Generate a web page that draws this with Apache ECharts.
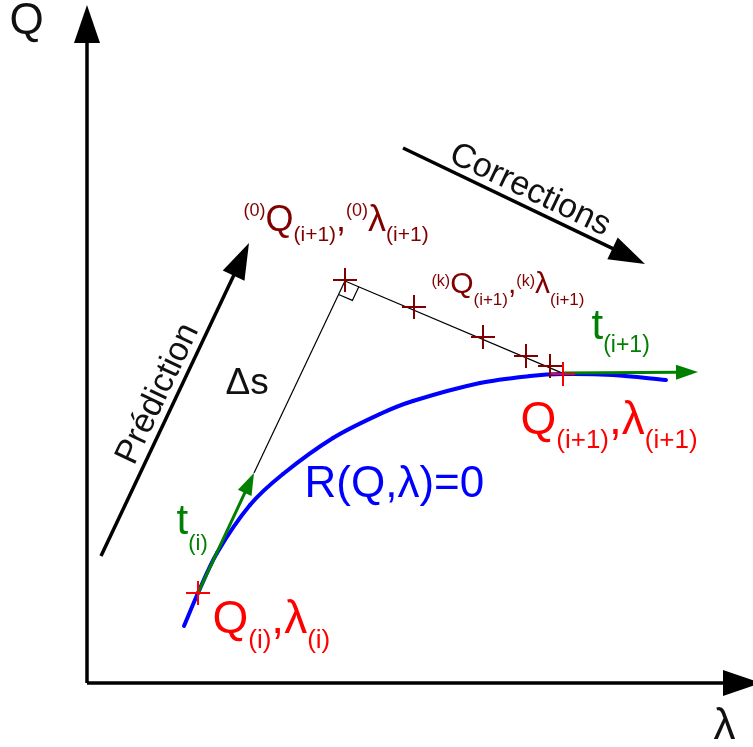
<!DOCTYPE html>
<html>
<head>
<meta charset="utf-8">
<script src="https://cdn.jsdelivr.net/npm/echarts@6/dist/echarts.min.js"></script>
<style>html,body{margin:0;padding:0;background:#fff;}#c{width:753px;height:747px;}</style>
</head>
<body>
<div id="c"></div>
<script>
// ---- data (diagram coordinates: lambda to the right, Q row downward) ----
const curveLambda = [184, 198, 217, 250, 283, 333, 380, 413, 480, 530, 563, 613, 666];
const curveQ      = [626, 593, 553, 505, 474, 438, 414, 401, 383, 376, 374, 375, 380];

const axisArrows    = [[87, 683, 87, 5], [87, 683, 761, 683]];
const stepArrows    = [[101, 556, 249, 243], [403, 148, 645, 264]];
const tangentArrows = [[198, 593, 254, 473], [563, 373, 698, 372]];
const thinSegments  = [[254, 473, 345, 281], [345, 281, 562, 373]];

const correctorLambda = [345, 414, 483, 526, 550];
const correctorQ      = [280, 307, 337, 356, 366];
const solutionLambda  = [198, 563];
const solutionQ       = [593, 374];

const FONT = 'Liberation Sans';
const RED = '#ff0000', DARKRED = '#800000', GREEN = '#008000', BLUE = '#0000ff', INK = '#111111';

function arrowSeries(data, color, lw, headLen, headHalf) {
  return {
    type: 'custom', silent: true, clip: false,
    data: data,
    renderItem: function (params, api) {
      const p1 = api.coord([api.value(0), api.value(1)]);
      const p2 = api.coord([api.value(2), api.value(3)]);
      const dx = p2[0] - p1[0], dy = p2[1] - p1[1];
      const L = Math.hypot(dx, dy), ux = dx / L, uy = dy / L;
      const bx = p2[0] - ux * headLen, by = p2[1] - uy * headLen;
      const children = [{
        type: 'line',
        shape: { x1: p1[0], y1: p1[1], x2: bx + ux, y2: by + uy },
        style: { stroke: color, lineWidth: lw }
      }];
      if (headLen > 0) children.push({
        type: 'polygon',
        shape: { points: [[p2[0], p2[1]], [bx - uy * headHalf, by + ux * headHalf], [bx + uy * headHalf, by - ux * headHalf]] },
        style: { fill: color }
      });
      return { type: 'group', children: children };
    }
  };
}

function plusSeries(xs, ys, color, size, lw) {
  return {
    type: 'custom', silent: true, clip: false,
    data: xs.map((x, i) => [x, ys[i]]),
    renderItem: function (params, api) {
      const p = api.coord([api.value(0), api.value(1)]);
      const h = size / 2;
      return { type: 'group', children: [
        { type: 'line', shape: { x1: p[0] - h, y1: p[1], x2: p[0] + h, y2: p[1] }, style: { stroke: color, lineWidth: lw } },
        { type: 'line', shape: { x1: p[0], y1: p[1] - h, x2: p[0], y2: p[1] + h }, style: { stroke: color, lineWidth: lw } }
      ]};
    }
  };
}

// smooth curve through the R(Q,λ)=0 points (chord-length Hermite segments)
function curveSeries(xs, ys, color, lw) {
  return {
    type: 'custom', silent: true, clip: false,
    data: xs.map((x, i) => [x, ys[i]]),
    renderItem: function (params, api) {
      const i = params.dataIndex, n = xs.length;
      if (i >= n - 1) return null;
      const P = k => api.coord([xs[Math.max(0, Math.min(n - 1, k))], ys[Math.max(0, Math.min(n - 1, k))]]);
      const p0 = P(i - 1), p1 = P(i), p2 = P(i + 1), p3 = P(i + 2);
      const d = (a, b) => Math.hypot(b[0] - a[0], b[1] - a[1]);
      const d01 = d(p0, p1), d12 = d(p1, p2), d23 = d(p2, p3);
      const k1 = d12 / (3 * (d01 + d12)), k2 = d12 / (3 * (d12 + d23));
      return {
        type: 'bezierCurve',
        shape: {
          x1: p1[0], y1: p1[1], x2: p2[0], y2: p2[1],
          cpx1: p1[0] + (p2[0] - p0[0]) * k1, cpy1: p1[1] + (p2[1] - p0[1]) * k1,
          cpx2: p2[0] - (p3[0] - p1[0]) * k2, cpy2: p2[1] - (p3[1] - p1[1]) * k2
        },
        style: { stroke: color, lineWidth: lw, fill: null, lineCap: 'round' }
      };
    }
  };
}

// right-angle mark at the predicted point
function rightAngleSeries(seg1, seg2, size) {
  return {
    type: 'custom', silent: true, clip: false,
    data: [[seg2[0], seg2[1]]],
    renderItem: function (params, api) {
      const P = api.coord([seg2[0], seg2[1]]);
      const A0 = api.coord([seg1[0], seg1[1]]);
      const B0 = api.coord([seg2[2], seg2[3]]);
      let ax = A0[0] - P[0], ay = A0[1] - P[1]; let la = Math.hypot(ax, ay); ax /= la; ay /= la;
      let bx = B0[0] - P[0], by = B0[1] - P[1]; let lb = Math.hypot(bx, by); bx /= lb; by /= lb;
      const A = [P[0] + ax * size, P[1] + ay * size];
      const B = [P[0] + bx * size, P[1] + by * size];
      const C = [A[0] + bx * size, A[1] + by * size];
      return { type: 'polyline', shape: { points: [A, C, B] }, style: { stroke: '#000', lineWidth: 1.2, fill: null } };
    }
  };
}

// rich label helper: tokens placed by baseline
function tok(f, color, top, baseline) {
  return { fontFamily: FONT, fontSize: f, color: color, verticalAlign: 'top',
           padding: [Math.max(0, baseline - top - 0.83 * f), 0, 0, 0] };
}

const labels = [
  { pos: [213, 590], text: '{m|Q}{s|(i)}{m|,λ}{s|(i)}',
    rich: { m: tok(46, RED, 590, 636), s: tok(26, RED, 590, 650) } },
  { pos: [521, 390], text: '{m|Q}{s|(i+1)}{m|,λ}{s|(i+1)}',
    rich: { m: tok(46, RED, 390, 437), s: tok(26, RED, 390, 450) } },
  { pos: [305, 460], text: '{m|R(Q,λ)=0}',
    rich: { m: tok(44, BLUE, 460, 500) } },
  { pos: [177, 490], text: '{m|t}{s|(i)}',
    rich: { m: tok(42, GREEN, 490, 537), s: tok(22, GREEN, 490, 552) } },
  { pos: [592, 295], text: '{m|t}{s|(i+1)}',
    rich: { m: tok(42, GREEN, 295, 342), s: tok(23, GREEN, 295, 354) } },
  { pos: [244, 190], text: '{p|(0)}{m|Q}{s|(i+1)}{m|,}{p|(0)}{m|λ}{s|(i+1)}',
    rich: { p: tok(18, DARKRED, 190, 217), m: tok(36, DARKRED, 190, 233), s: tok(21, DARKRED, 190, 243) } },
  { pos: [432, 265], text: '{p|(k)}{m|Q}{s|(i+1)}{m|,}{p|(k)}{m|λ}{s|(i+1)}',
    rich: { p: tok(16, DARKRED, 265, 287), m: tok(30, DARKRED, 265, 295), s: tok(17, DARKRED, 265, 306) } },
  { pos: [226, 366], text: '{m|Δs}', rich: { m: tok(37, INK, 366, 397) } },
  { pos: [10, 0], text: '{m|Q}', rich: { m: tok(44, INK, 0, 36) } },
  { pos: [714, 704], text: '{m|λ}', rich: { m: tok(44, INK, 704, 742) } }
];

const rotLabels = [
  { pos: [158, 394], text: 'Prédiction', rotate: 64.6 },
  { pos: [530, 190], text: 'Corrections', rotate: -25.6 }
];

const chart = echarts.init(document.getElementById('c'), null, { renderer: 'canvas' });
chart.setOption({
  animation: false,
  grid: { left: 0, right: 0, top: 0, bottom: 0 },
  xAxis: { type: 'value', min: 0, max: 753, show: false },
  yAxis: { type: 'value', min: 0, max: 747, inverse: true, show: false },
  series: [
    arrowSeries(axisArrows, '#000', 3.5, 38, 13),
    arrowSeries(stepArrows, '#000', 3.5, 36, 12),
    arrowSeries(thinSegments, '#000', 1.2, 0, 0),
    rightAngleSeries(thinSegments[0], thinSegments[1], 15),
    curveSeries(curveLambda, curveQ, BLUE, 4),
    arrowSeries(tangentArrows, GREEN, 3, 22, 7.5),
    plusSeries(correctorLambda, correctorQ, DARKRED, 24, 2),
    plusSeries(solutionLambda, solutionQ, RED, 24, 2),
    {
      type: 'scatter', silent: true, symbolSize: 1,
      itemStyle: { color: 'rgba(0,0,0,0)', opacity: 1 },
      data: labels.map(l => ({
        value: l.pos,
        label: { show: true, position: [0, 0], align: 'left', verticalAlign: 'top',
                 opacity: 1, formatter: l.text, rich: l.rich }
      }))
    },
    {
      type: 'scatter', silent: true, symbolSize: 1,
      itemStyle: { color: 'rgba(0,0,0,0)', opacity: 1 },
      data: rotLabels.map(l => ({
        value: l.pos,
        label: { show: true, position: 'inside', align: 'center', verticalAlign: 'middle', opacity: 1,
                 rotate: l.rotate, formatter: l.text, fontFamily: FONT, fontSize: 34, color: INK }
      }))
    }
  ]
});
</script>
</body>
</html>
